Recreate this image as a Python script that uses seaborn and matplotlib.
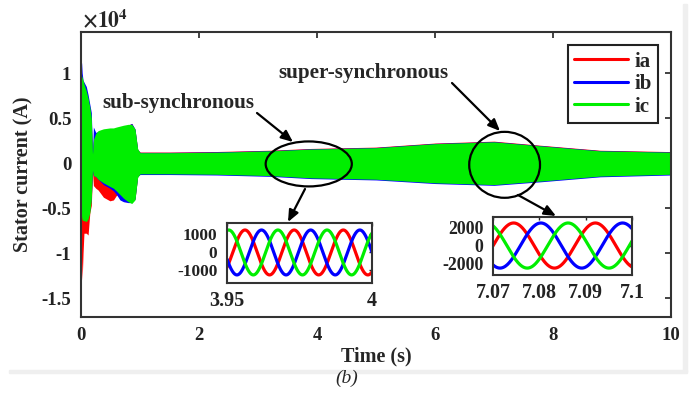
import numpy as np
import pandas as pd
import seaborn as sns
import matplotlib.pyplot as plt
from matplotlib.patches import Ellipse, Rectangle
from matplotlib.lines import Line2D

# ---------------- data (main plot envelopes, units of 1e4 A) ----------------
t_env = [0.0, 0.01, 0.02, 0.035, 0.05, 0.09, 0.12, 0.15, 0.175, 0.195, 0.21, 0.25,
         0.29, 0.38, 0.49, 0.55, 0.60, 0.66, 0.72, 0.80, 0.86, 0.915, 0.96, 1.0,
         1.5, 2.3, 3.2, 3.9, 5.0, 6.0, 7.0, 7.8, 8.8, 10.0]

up_a = [0.90, 0.90, 0.88, 0.85, 0.82, 0.75, 0.68, 0.58, 0.45, 0.08, 0.24, 0.31,
        0.34, 0.36, 0.37, 0.37, 0.38, 0.39, 0.40, 0.42, 0.44, 0.37, 0.15, 0.122,
        0.122, 0.128, 0.142, 0.162, 0.177, 0.222, 0.243, 0.197, 0.142, 0.127]
lo_a = [-0.70, -1.10, -1.30, -1.00, -0.78, -0.78, -0.80, -0.55, -0.47, -0.10, -0.25, -0.28,
        -0.30, -0.38, -0.42, -0.41, -0.36, -0.33, -0.36, -0.40, -0.42, -0.40, -0.15, -0.115,
        -0.115, -0.12, -0.135, -0.16, -0.175, -0.215, -0.235, -0.195, -0.14, -0.12]

up_b = [1.00, 1.12, 1.00, 0.92, 0.90, 0.85, 0.76, 0.65, 0.56, 0.10, 0.40, 0.34,
        0.35, 0.37, 0.38, 0.38, 0.39, 0.40, 0.41, 0.42, 0.44, 0.38, 0.15, 0.118,
        0.118, 0.124, 0.138, 0.158, 0.173, 0.218, 0.238, 0.193, 0.138, 0.123]
lo_b = [-0.45, -0.55, -0.60, -0.62, -0.62, -0.62, -0.60, -0.52, -0.38, -0.08, -0.14, -0.15,
        -0.18, -0.24, -0.28, -0.31, -0.35, -0.41, -0.43, -0.44, -0.44, -0.40, -0.15, -0.128,
        -0.128, -0.133, -0.148, -0.173, -0.188, -0.228, -0.248, -0.208, -0.153, -0.133]

up_c = [0.98, 0.97, 0.95, 0.92, 0.88, 0.80, 0.72, 0.62, 0.50, 0.10, 0.26, 0.33,
        0.36, 0.38, 0.39, 0.39, 0.40, 0.41, 0.42, 0.43, 0.43, 0.38, 0.16, 0.115,
        0.115, 0.12, 0.135, 0.155, 0.17, 0.215, 0.235, 0.19, 0.135, 0.12]
lo_c = [-0.50, -0.60, -0.63, -0.64, -0.64, -0.65, -0.62, -0.55, -0.40, -0.08, -0.14, -0.15,
        -0.18, -0.22, -0.26, -0.28, -0.31, -0.35, -0.39, -0.43, -0.45, -0.41, -0.16, -0.12,
        -0.12, -0.125, -0.14, -0.165, -0.18, -0.22, -0.24, -0.20, -0.145, -0.125]

phase_names = ["ia", "ib", "ic"]
phase_colors = ["#ff0000", "#0000ff", "#00ee00"]

# ---------------- inset data ----------------
inset1_xlim = [3.95, 4.0]
inset1_amp = [1250, 1250, 1250]          # A
inset1_freq = 59.0                       # Hz
inset1_peak_t = [3.9562, 3.9619, 3.9506]  # time of a crest of ia, ib, ic
inset1_yticks = [-1000, 0, 1000]
inset1_xticks = [3.95, 4.0]
inset1_xticklabels = ["3.95", "4"]

inset2_xlim = [7.07, 7.1]
inset2_amp = [2450, 2450, 2450]
inset2_freq = 56.7
inset2_peak_t = [7.07445, 7.08033, 7.08621]
inset2_yticks = [-2000, 0, 2000]
inset2_xticks = [7.07, 7.08, 7.09, 7.1]
inset2_xticklabels = ["7.07", "7.08", "7.09", "7.1"]

main_xticks = [0, 2, 4, 6, 8, 10]
main_yticks = [-1.5, -1.0, -0.5, 0.0, 0.5, 1.0]
main_yticklabels = ["-1.5", "-1", "-0.5", "0", "0.5", "1"]

# ---------------- styling ----------------
sns.set_style("white")
SERIF = ["Liberation Serif", "DejaVu Serif"]
plt.rcParams["font.family"] = SERIF
plt.rcParams["font.weight"] = "bold"
plt.rcParams["axes.unicode_minus"] = False
plt.rcParams["mathtext.fontset"] = "stix"

W, H = 694, 398
fig = plt.figure(figsize=(W / 100, H / 100), dpi=100)
fig.patch.set_facecolor("white")


def box(x0, y0, x1, y1):
    return [x0 / W, 1 - y1 / H, (x1 - x0) / W, (y1 - y0) / H]


# light gray page shadow
fig.patches.append(Rectangle((683 / W, 1 - 372 / H), 4 / W, 368 / H,
                             transform=fig.transFigure, color="#efefef", zorder=0))
fig.patches.append(Rectangle((9 / W, 1 - 373 / H), 678 / W, 3 / H,
                             transform=fig.transFigure, color="#efefef", zorder=0))

ax = fig.add_axes(box(81, 32, 671, 317))
env = pd.DataFrame({"t": t_env, "up_a": up_a, "lo_a": lo_a, "up_b": up_b,
                    "lo_b": lo_b, "up_c": up_c, "lo_c": lo_c})
for key, col in zip(["a", "b", "c"], phase_colors):
    ax.fill_between(env["t"], env["lo_" + key], env["up_" + key], color=col, lw=0)

ax.set_xlim(0, 10)
ax.set_ylim(-1.711, 1.456)
ax.set_xticks(main_xticks)
ax.set_xticklabels([str(v) for v in main_xticks])
ax.set_yticks(main_yticks)
ax.set_yticklabels(main_yticklabels)
ax.tick_params(direction="in", length=4, width=1.2, top=True, right=True,
               labelsize=13.5, colors="#222222", pad=7)
for lab in ax.get_xticklabels() + ax.get_yticklabels():
    lab.set_fontweight("bold")
for s in ax.spines.values():
    s.set_linewidth(1.5)
    s.set_color("#333333")
ax.set_xlabel("Time (s)", fontsize=14.5, fontweight="bold")
ax.set_ylabel("Stator current (A)", fontsize=14.5, fontweight="bold")
ax.xaxis.set_label_coords(0.5, -0.103)
ax.yaxis.set_label_coords(-0.08, 0.5)
fig.text(82 / W, 1 - 20 / H, r"$\times 10^{4}$", fontsize=15.5, ha="left", va="center")

handles = [Line2D([], [], color=c, lw=2.2) for c in phase_colors]
leg = ax.legend(handles, phase_names, loc="upper right", bbox_to_anchor=(0.978, 0.953),
                borderaxespad=0, fancybox=False, framealpha=1, edgecolor="#222222",
                prop={"family": SERIF, "weight": "bold", "size": 15},
                handlelength=2.6, labelspacing=0.12, handletextpad=0.3,
                borderpad=0.3)
leg.get_frame().set_linewidth(1.5)

# ellipses
ax.add_patch(Ellipse((3.86, -0.01), 1.46, 0.50, fill=False, lw=1.6, ec="black", zorder=5))
ax.add_patch(Ellipse((7.18, -0.02), 1.20, 0.733, fill=False, lw=1.6, ec="black", zorder=5))

txt = dict(fontsize=15.2, fontweight="bold", ha="center", va="center")
fig.text(178 / W, 1 - 103 / H, "sub-synchronous", **txt)
fig.text(363 / W, 1 - 73 / H, "super-synchronous", **txt)

arrowprops = dict(arrowstyle="-|>,head_length=0.7,head_width=0.3", lw=1.6, color="black",
                  shrinkA=0, shrinkB=0)
for (x0, y0, x1, y1) in [(257, 113, 293, 142), (452, 83, 500, 131),
                         (305, 189, 288, 222), (518, 195, 556, 216)]:
    ax.annotate("", xy=(x1, H - y1), xytext=(x0, H - y0), xycoords="figure pixels",
                textcoords="figure pixels", arrowprops=arrowprops, zorder=6)


def draw_inset(rect, xlim, amps, freq, peaks, ylim, yticks, xticks, xticklabels, xpad,
               ysize):
    a = fig.add_axes(rect)
    tt = np.linspace(xlim[0], xlim[1], 600)
    frames = []
    for name, A, tp in zip(phase_names, amps, peaks):
        frames.append(pd.DataFrame({"t": tt, "i": A * np.cos(2 * np.pi * freq * (tt - tp)),
                                    "phase": name}))
    df = pd.concat(frames, ignore_index=True)
    sns.lineplot(data=df, x="t", y="i", hue="phase", palette=phase_colors,
                 hue_order=phase_names, lw=2.3, legend=False, ax=a, sort=False,
                 estimator=None)
    a.set_xlim(*xlim)
    a.set_ylim(*ylim)
    a.set_xticks(xticks)
    a.set_xticklabels(xticklabels)
    a.set_yticks(yticks)
    a.set_yticklabels([str(v) for v in yticks])
    a.set_xlabel("")
    a.set_ylabel("")
    a.tick_params(axis="both", direction="in", length=2.5, width=1,
                  colors="#222222", top=True, right=True)
    a.tick_params(axis="x", pad=xpad, labelsize=14.5)
    a.tick_params(axis="y", pad=7, labelsize=ysize)
    for lab in a.get_xticklabels() + a.get_yticklabels():
        lab.set_fontweight("bold")
    for s in a.spines.values():
        s.set_linewidth(1.5)
        s.set_color("#333333")
    a.set_facecolor("white")
    return a


draw_inset(box(227, 223, 372, 283), inset1_xlim, inset1_amp, inset1_freq, inset1_peak_t,
           (-1700, 1640), inset1_yticks, inset1_xticks, inset1_xticklabels, 6, 12.5)
draw_inset(box(493, 217, 632, 275), inset2_xlim, inset2_amp, inset2_freq, inset2_peak_t,
           (-3200, 3100), inset2_yticks, inset2_xticks, inset2_xticklabels, 6, 12.8)

fig.text(347 / W, 1 - 378 / H, "(b)", fontsize=14, style="italic", fontweight="normal",
         ha="center", va="center")

fig.savefig("out.png", dpi=100)
